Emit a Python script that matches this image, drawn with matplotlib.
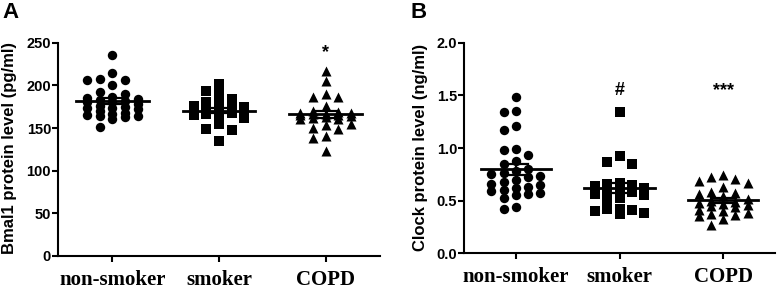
import numpy as np
import matplotlib
matplotlib.use("Agg")
import matplotlib.pyplot as plt

groups = ["non-smoker", "smoker", "COPD"]
markers = ["o", "s", "^"]

# Panel A: Bmal1 (pg/ml)
bmal1_nonsmoker = [236, 215, 208, 206, 206, 200, 192, 190, 186, 185, 184, 183, 182, 181, 180,
                   178, 176, 175, 174, 173, 172, 170, 168, 166, 165, 164, 164, 163, 160, 151]
bmal1_smoker = [202, 193, 190, 184, 180, 178, 176, 175, 173, 172, 171, 170, 169, 168, 167,
                166, 165, 162, 155, 149, 148, 135]
bmal1_copd = [217, 205, 190, 186, 186, 176, 170, 168, 165, 163, 160, 169, 168, 167, 166,
              165, 164, 162, 160, 155, 153, 149, 150, 141, 138, 123]

# Panel B: Clock (ng/ml)
clock_nonsmoker = [1.48, 1.34, 1.35, 1.21, 1.17, 0.99, 0.98, 0.93, 0.88, 0.85, 0.80, 0.78,
                   0.76, 0.75, 0.73, 0.72, 0.70, 0.68, 0.66, 0.65, 0.63, 0.62, 0.60, 0.59,
                   0.57, 0.56, 0.55, 0.53, 0.44, 0.42]
clock_smoker = [1.34, 0.92, 0.87, 0.85, 0.67, 0.66, 0.65, 0.64, 0.62, 0.60, 0.59, 0.58,
                0.56, 0.55, 0.53, 0.52, 0.42, 0.41, 0.40, 0.38, 0.37, 0.42]
clock_copd = [0.74, 0.72, 0.71, 0.69, 0.67, 0.63, 0.58, 0.57, 0.56, 0.54, 0.52, 0.50, 0.49,
              0.48, 0.47, 0.46, 0.45, 0.44, 0.41, 0.40, 0.38, 0.37, 0.36, 0.35, 0.33, 0.27]

bmal1_marks = ["", "", "*"]
clock_marks = ["", "#", "***"]


def swarm_offsets(values, px_per_unit, col_step, min_dy_px, max_col=2):
    # column scatter capped at +-max_col columns, points may overlap in dense parts
    order = np.argsort(values)[::-1]
    cols = [0]
    for k in range(1, max_col + 1):
        cols += [-k, k]
    placed = {c: [] for c in cols}
    offsets = np.zeros(len(values))
    for i in order:
        y = values[i] * px_per_unit
        best, best_gap = 0, -1
        for c in cols:
            gap = min([abs(py - y) for py in placed[c]], default=1e9)
            if gap >= min_dy_px:
                best = c
                break
            if gap > best_gap:
                best, best_gap = c, gap
        placed[best].append(y)
        offsets[i] = best * col_step
    return offsets


def panel(ax, data, ymax, yticks, ticklabels, marks, mark_y, px_per_unit):
    for g, (vals, m) in enumerate(zip(data, markers)):
        vals = np.array(vals, dtype=float)
        xo = swarm_offsets(vals, px_per_unit, 0.118, 9)
        ax.scatter(g + xo, vals, marker=m, s=46 if m != "^" else 52, color="black",
                   linewidths=0, zorder=3)
        mean = vals.mean()
        sem = vals.std(ddof=1) / np.sqrt(len(vals))
        ax.plot([g - 0.34, g + 0.34], [mean, mean], color="black", lw=2, zorder=4)
        ax.plot([g - 0.12, g + 0.12], [mean + sem] * 2, color="black", lw=1.6, zorder=4)
        ax.plot([g - 0.12, g + 0.12], [mean - sem] * 2, color="black", lw=1.6, zorder=4)
        ax.plot([g, g], [mean - sem, mean + sem], color="black", lw=1.6, zorder=4)
        if marks[g]:
            ax.text(g, mark_y, marks[g], ha="center", va="center", fontsize=13,
                    fontweight="bold", family="Liberation Sans")
    ax.set_ylim(0, ymax)
    ax.set_yticks(yticks)
    ax.set_yticklabels(ticklabels, family="Liberation Sans", fontweight="bold", fontsize=10.5)
    ax.set_xticks(range(3))
    ax.set_xticklabels(groups, family="Liberation Serif", fontweight="bold", fontsize=15)
    for s in ["top", "right"]:
        ax.spines[s].set_visible(False)
    for s in ["left", "bottom"]:
        ax.spines[s].set_linewidth(1.5)
    ax.tick_params(width=1.5, length=4, pad=1)
    ax.tick_params(axis="x", pad=6)


fig = plt.figure(figsize=(7.77, 2.92), dpi=100)
axA = fig.add_axes([0.0746, 0.1233, 0.4144, 0.7305])
axB = fig.add_axes([0.5972, 0.1325, 0.4003, 0.7212])

panel(axA, [bmal1_nonsmoker, bmal1_smoker, bmal1_copd], 250, [0, 50, 100, 150, 200, 250],
      ["0", "50", "100", "150", "200", "250"], bmal1_marks, 238, 213.3 / 250)
axA.set_xlim(-0.51, 2.51)
panel(axB, [clock_nonsmoker, clock_smoker, clock_copd], 2.0, [0.0, 0.5, 1.0, 1.5, 2.0],
      ["0.0", "0.5", "1.0", "1.5", "2.0"], clock_marks, 1.55, 210.6 / 2.0)
axB.set_xlim(-0.5, 2.5)

fig.text(10 / 777, 1 - 148 / 292, "Bmal1 protein level (pg/ml)", rotation=90, ha="center",
         va="center", fontsize=12, fontweight="bold", family="Liberation Sans")
fig.text(420 / 777, 1 - 147 / 292, "Clock protein level (ng/ml)", rotation=90, ha="center",
         va="center", fontsize=12, fontweight="bold", family="Liberation Sans")
fig.text(2 / 777, 1 - 12 / 292, "A", ha="left", va="center", fontsize=16, fontweight="bold",
         family="Liberation Sans")
fig.text(410 / 777, 1 - 12 / 292, "B", ha="left", va="center", fontsize=16, fontweight="bold",
         family="Liberation Sans")

fig.savefig("out.png", dpi=100)
